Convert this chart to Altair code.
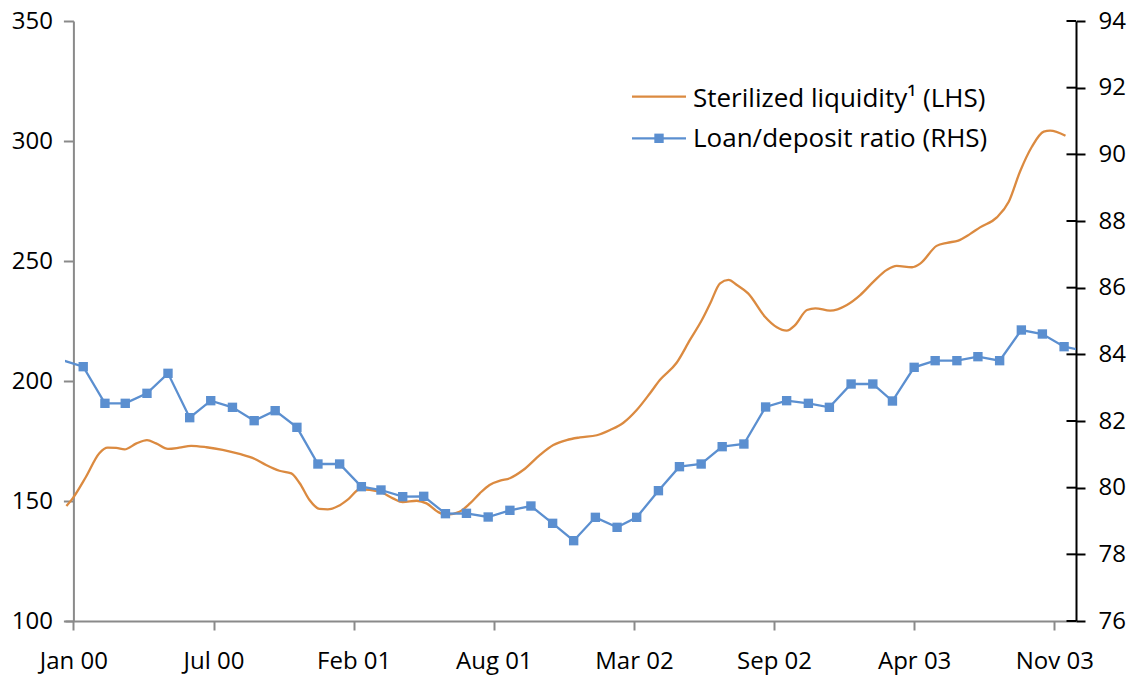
import altair as alt
import pandas as pd

# ---------------- data ----------------
orange_dates = [
    "1999-12-22", "1999-12-31", "2000-01-19", "2000-02-07", "2000-02-19", "2000-03-02",
    "2000-03-14", "2000-03-31", "2000-04-15", "2000-04-28", "2000-05-15", "2000-05-31",
    "2000-06-17", "2000-07-09", "2000-08-01", "2000-08-25", "2000-09-16", "2000-10-02",
    "2000-10-21", "2000-11-07", "2000-11-19", "2000-12-03", "2000-12-17", "2000-12-29",
    "2001-01-13", "2001-01-27", "2001-02-13", "2001-03-13", "2001-04-01", "2001-04-15",
    "2001-05-05", "2001-05-19", "2001-06-04", "2001-06-16", "2001-07-05", "2001-07-20",
    "2001-08-03", "2001-08-17", "2001-09-01", "2001-09-15", "2001-10-04", "2001-10-28",
    "2001-11-16", "2001-12-05", "2001-12-24", "2002-01-17", "2002-02-05", "2002-02-24",
    "2002-03-15", "2002-04-03", "2002-04-17", "2002-05-11", "2002-05-30", "2002-06-16",
    "2002-06-28", "2002-07-12", "2002-07-24", "2002-08-05", "2002-08-21", "2002-09-14",
    "2002-10-01", "2002-10-15", "2002-10-27", "2002-11-13", "2002-11-25", "2002-12-16",
    "2003-01-09", "2003-01-28", "2003-02-16", "2003-03-07", "2003-03-21", "2003-04-12",
    "2003-04-24", "2003-05-17", "2003-06-01", "2003-06-17", "2003-07-04", "2003-07-18",
    "2003-08-11", "2003-08-28", "2003-09-13", "2003-09-30", "2003-10-17", "2003-10-26",
    "2003-11-17",
]
orange_values = [
    147.9, 151.1, 160.1, 169.9, 172.2, 172.1,
    171.5, 174.0, 175.4, 174.0, 171.7, 172.2,
    173.0, 172.4, 171.3, 169.6, 167.5, 165.0,
    162.6, 161.5, 157.4, 150.4, 146.7, 146.5,
    147.9, 150.7, 154.9, 153.9, 151.1, 149.5,
    150.1, 149.0, 145.5, 144.2, 145.5, 149.0,
    153.2, 156.7, 158.5, 159.5, 162.9, 169.2,
    173.3, 175.4, 176.5, 177.4, 179.6, 182.6,
    187.9, 194.9, 200.4, 207.6, 217.1, 225.4,
    232.4, 240.7, 242.1, 240.0, 236.5, 226.8,
    222.4, 221.0, 223.3, 229.6, 230.3, 229.3,
    231.7, 235.8, 241.4, 246.3, 248.0, 247.4,
    249.0, 256.3, 257.6, 258.5, 261.3, 264.0,
    268.2, 274.7, 287.2, 297.6, 303.9, 304.3,
    302.2,
]

blue_months = [f"{y}-{m:02d}-15" for y in range(2000, 2004) for m in range(1, 13)][:47]
blue_values = [
    83.63, 82.53, 82.53, 82.83, 83.43, 82.10, 82.61, 82.41, 82.01, 82.31, 81.81, 80.71,
    80.71, 80.03, 79.93, 79.73, 79.74, 79.22, 79.23, 79.12, 79.32, 79.45, 78.93, 78.41,
    79.11, 78.81, 79.11, 79.91, 80.63, 80.71, 81.23, 81.31, 82.42, 82.61, 82.53, 82.41,
    83.11, 83.11, 82.60, 83.61, 83.81, 83.81, 83.93, 83.81, 84.73, 84.61, 84.23,
]
# points just outside the visible window (line runs off both edges)
blue_edge_dates = ["1999-12-15", "2003-12-15"]
blue_edge_values = [83.83, 84.10]

left_ticks = [100, 150, 200, 250, 300, 350]
right_ticks = [76, 78, 80, 82, 84, 86, 88, 90, 92, 94]
x_tick_dates = [(2000, 1, 1), (2000, 7, 19), (2001, 2, 4), (2001, 8, 23),
                (2002, 3, 11), (2002, 9, 27), (2003, 4, 15), (2003, 11, 1)]
x_domain = [(1999, 12, 20), (2003, 12, 2)]
legend_labels = ["Sterilized liquidity\u00b9 (LHS)", "Loan/deposit ratio (RHS)"]

assert len(orange_dates) == len(orange_values)
assert len(blue_months) == len(blue_values)

# ---------------- style ----------------
W, H = 1011, 600
ORANGE = "#DB8A40"
BLUE = "#5B8FD0"
GRAY = "#8A8A8A"
FONT = "Open Sans"


def dt(t):
    return alt.DateTime(year=t[0], month=t[1], date=t[2], utc=True)


orange_df = pd.DataFrame({"date": orange_dates, "value": orange_values})
blue_df = pd.DataFrame({"date": blue_months, "value": blue_values})
blue_line_df = pd.concat(
    [pd.DataFrame({"date": blue_edge_dates[:1], "value": blue_edge_values[:1]}),
     blue_df,
     pd.DataFrame({"date": blue_edge_dates[1:], "value": blue_edge_values[1:]})],
    ignore_index=True)
rtick_df = pd.DataFrame({"value": right_ticks})

x_scale = alt.Scale(type="utc", domain=[dt(d) for d in x_domain])
x_axis = alt.Axis(
    values=[dt(d) for d in x_tick_dates], format="%b %y", title=None, grid=False,
    domainColor=GRAY, domainWidth=2, tickColor=GRAY, tickWidth=2, tickSize=9,
    labelPadding=19, labelFont=FONT, labelFontSize=24, labelColor="black",
    labelOverlap=False, labelFlush=False,
)
x_enc = alt.X("date:T", scale=x_scale, axis=x_axis)

left_scale = alt.Scale(domain=[100, 350], nice=False, zero=False)
left_axis = alt.Axis(
    values=left_ticks, orient="left", offset=-8.4, title=None, grid=False,
    domainColor=GRAY, domainWidth=2, tickColor=GRAY, tickWidth=2, tickSize=10,
    labelPadding=11, labelFont=FONT, labelFontSize=24, labelColor="black",
)
right_scale = alt.Scale(domain=[76, 94], nice=False, zero=False)
right_axis = alt.Axis(
    values=right_ticks, orient="right", title=None, grid=False,
    domainColor="black", domainWidth=2, tickColor="black", tickWidth=2, tickSize=9,
    labelPadding=13, labelFont=FONT, labelFontSize=24, labelColor="black",
)

orange_line = alt.Chart(orange_df).mark_line(
    color=ORANGE, strokeWidth=2.3, interpolate="monotone", clip=True
).encode(x=x_enc, y=alt.Y("value:Q", scale=left_scale, axis=left_axis))

blue_line = alt.Chart(blue_line_df).mark_line(
    color=BLUE, strokeWidth=2.3, clip=True
).encode(x=x_enc, y=alt.Y("value:Q", scale=right_scale, axis=right_axis))

blue_pts = alt.Chart(blue_df).mark_square(
    color=BLUE, size=88, opacity=1
).encode(x=x_enc, y=alt.Y("value:Q", scale=right_scale, axis=right_axis))

# inner half of the crossing ticks on the right axis
inner_ticks = alt.Chart(rtick_df).mark_rule(color="black", strokeWidth=2).encode(
    y=alt.Y("value:Q", scale=right_scale, axis=right_axis),
    x=alt.value(W - 9.5), x2=alt.value(W),
)

right_group = alt.layer(blue_line, blue_pts, inner_ticks)

# ---------------- legend (manual) ----------------
one = pd.DataFrame({"k": [0]})
leg_orange_line = alt.Chart(one).mark_rule(color=ORANGE, strokeWidth=2.3).encode(
    x=alt.value(567), x2=alt.value(621), y=alt.value(75.7))
leg_blue_line = alt.Chart(one).mark_rule(color=BLUE, strokeWidth=2.3).encode(
    x=alt.value(567), x2=alt.value(621), y=alt.value(117.3))
leg_blue_sq = alt.Chart(one).mark_square(color=BLUE, size=88, opacity=1).encode(
    x=alt.value(594), y=alt.value(117.3))
leg_text = alt.Chart(pd.DataFrame({"label": legend_labels, "yy": [85.5, 126.0]})).mark_text(
    align="left", baseline="alphabetic", font=FONT, fontSize=26, color="black"
).encode(text="label:N", x=alt.value(628), y=alt.Y("yy:Q", scale=None))

chart = alt.layer(
    orange_line, right_group, leg_orange_line, leg_blue_line, leg_blue_sq, leg_text
).resolve_scale(y="independent").properties(
    width=W, height=H,
    autosize=alt.AutoSizeParams(type="none"),
    padding={"left": 57, "top": 13, "right": 51, "bottom": 58},
    background="white",
).configure_view(stroke=None)

chart.save("out.html", embed_options={"renderer": "svg", "actions": False})
